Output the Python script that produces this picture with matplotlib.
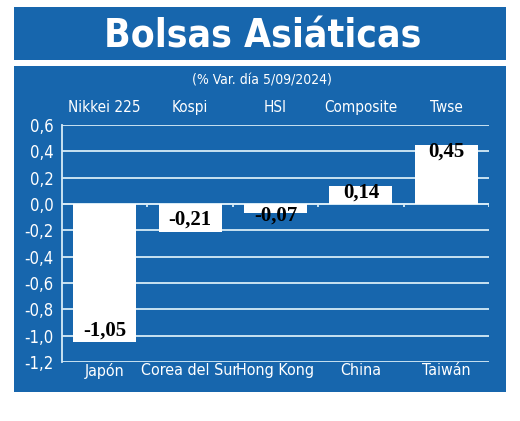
from matplotlib import pyplot as plt
from matplotlib.patches import Rectangle
import numpy as np

# data
indices = ['Nikkei 225', 'Kospi', 'HSI', 'Composite', 'Twse']
countries = ['Japón', 'Corea del Sur', 'Hong Kong', 'China', 'Taiwán']
variation = [-1.05, -0.21, -0.07, 0.14, 0.45]
y_ticks = [0.6, 0.4, 0.2, 0.0, -0.2, -0.4, -0.6, -0.8, -1.0, -1.2]

blue = '#1766ad'
grid_col = '#d6ebf7'
narrow = ['DejaVu Sans']

fig = plt.figure(figsize=(5.2, 4.21), dpi=100)
fig.patch.set_facecolor('white')

# blue banners
fig.patches.append(Rectangle((14/520, 1-60/421), 492/520, 53/421, zorder=-5,
                             transform=fig.transFigure, facecolor=blue, edgecolor='none'))
fig.patches.append(Rectangle((14/520, 1-392/421), 492/520, 326/421, zorder=-5,
                             transform=fig.transFigure, facecolor=blue, edgecolor='none'))

fig.text(0.505, 1-37/421, 'Bolsas Asiáticas', color='white', fontsize=28,
         fontweight='bold', family=narrow, fontstretch='condensed', ha='center', va='center')
fig.text(0.503, 1-80/421, '(% Var. día 5/09/2024)', color='white', fontsize=10,
         family=narrow, fontstretch='condensed', fontweight='medium', ha='center', va='center')

ax = fig.add_axes([62/520, 1-362/421, 427/520, 237/421])
ax.set_facecolor('none')

x = np.arange(len(variation))
ax.set_axisbelow(True)
ax.bar(x, variation, width=0.74, color='white', zorder=2)

for xi, v in zip(x, variation):
    if v < 0:
        ty = min(v + 0.09, -0.09)
    else:
        ty = v - 0.05
    ax.text(xi, ty, f'{v:.2f}'.replace('.', ','), ha='center', va='center',
            fontsize=15, fontweight='bold', fontstretch='normal',
            family=['Liberation Serif', 'DejaVu Serif'], color='black', zorder=3)

ax.set_xlim(-0.5, len(variation) - 0.5)
ax.set_ylim(-1.2, 0.6)
ax.set_yticks(y_ticks)
ax.set_yticklabels([f'{t:.1f}'.replace('.', ',') for t in y_ticks])
ax.yaxis.grid(True, color=grid_col, linewidth=1.3)

# small ticks on the zero line between categories
ax.vlines(x + 0.5, -0.025, 0, color=grid_col, linewidth=1.3, zorder=1)
ax.axhline(0, color=grid_col, linewidth=1.3, zorder=1)

for s in ['top', 'right', 'bottom']:
    ax.spines[s].set_visible(False)
ax.spines['left'].set_color(grid_col)
ax.spines['left'].set_linewidth(1.3)

ax.set_xticks(x)
ax.set_xticklabels(countries)
ax.tick_params(axis='x', length=0, pad=1, colors='white', labelsize=11.5)
ax.tick_params(axis='y', length=0, pad=6, colors='white', labelsize=12)
for lab in ax.get_xticklabels() + ax.get_yticklabels():
    lab.set_family(narrow)
    lab.set_stretch('condensed')

top = ax.secondary_xaxis('top')
top.set_xticks(x)
top.set_xticklabels(indices)
top.tick_params(length=0, pad=7, colors='white', labelsize=11)
top.spines['top'].set_visible(False)
for lab in top.get_xticklabels():
    lab.set_family(narrow)
    lab.set_stretch('condensed')

plt.savefig('out.png', dpi=100)
